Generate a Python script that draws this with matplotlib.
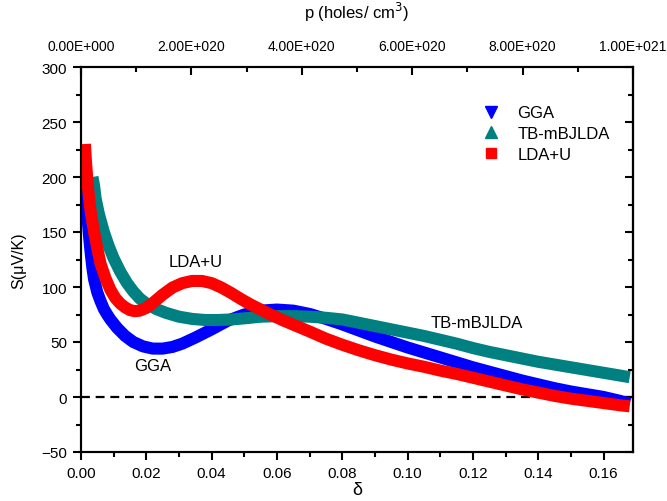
import matplotlib

matplotlib.use("Agg")
import matplotlib.pyplot as plt
from matplotlib.lines import Line2D
from matplotlib.ticker import FuncFormatter, MultipleLocator

plt.rcParams["font.family"] = ["Liberation Sans", "DejaVu Sans"]

# hole concentration delta vs Seebeck coefficient S (uV/K)
gga_delta = [0.001, 0.0015, 0.002, 0.0025, 0.003, 0.0035, 0.004, 0.005, 0.006, 0.007,
             0.008, 0.009, 0.011, 0.0135, 0.016, 0.019, 0.022, 0.025, 0.028, 0.031,
             0.035, 0.040, 0.045, 0.050, 0.055, 0.060, 0.065, 0.070, 0.075, 0.080,
             0.085, 0.090, 0.095, 0.100, 0.105, 0.110, 0.115, 0.120, 0.125, 0.130,
             0.135, 0.140, 0.145, 0.150, 0.155, 0.160, 0.165, 0.168]
gga_s = [212, 185, 163, 145, 130, 117, 107, 95, 87, 80,
         75, 70.5, 63, 55.5, 50, 46, 44, 44, 45.5, 48.5,
         54, 61.5, 69.5, 75, 78.5, 79.5, 78.5, 75.5, 71, 66,
         60.5, 55, 50, 45, 40.5, 36, 31.5, 27, 23, 19,
         15, 11.5, 8, 5, 2.5, 0, -3.5, -6]

tb_delta = [0.0035, 0.004, 0.0045, 0.0055, 0.007, 0.0085, 0.010, 0.012, 0.014, 0.016,
            0.018, 0.020, 0.023, 0.026, 0.030, 0.034, 0.038, 0.042, 0.046, 0.050,
            0.055, 0.060, 0.065, 0.070, 0.075, 0.080, 0.085, 0.090, 0.095, 0.100,
            0.105, 0.110, 0.115, 0.120, 0.125, 0.130, 0.135, 0.140, 0.145, 0.150,
            0.155, 0.160, 0.165, 0.168]
tb_s = [200, 192, 180, 166, 150, 137, 126, 114, 104, 96,
        89.5, 85, 80, 76.5, 73, 71, 70, 70, 70.5, 71.5,
        73, 73.5, 73.5, 73, 72, 70.5, 67.5, 64.5, 61.5, 58.5,
        55.5, 52, 48.5, 44.5, 41, 38, 35, 32, 29.5, 27,
        24.5, 22, 19.5, 18]

ldau_delta = [0.0012, 0.0015, 0.002, 0.0025, 0.003, 0.004, 0.005, 0.006, 0.0075, 0.009,
              0.0105, 0.012, 0.0135, 0.015, 0.0165, 0.018, 0.020, 0.022, 0.025, 0.028,
              0.031, 0.034, 0.037, 0.040, 0.043, 0.046, 0.049, 0.052, 0.055, 0.058,
              0.062, 0.066, 0.070, 0.075, 0.080, 0.085, 0.090, 0.095, 0.100, 0.105,
              0.110, 0.115, 0.120, 0.125, 0.130, 0.135, 0.140, 0.145, 0.150, 0.155,
              0.160, 0.165, 0.168]
ldau_s = [230, 215, 195, 180, 168, 150, 135, 121, 108, 97.5,
          90, 85, 81.5, 79, 78, 78.5, 81, 85.5, 93, 99.5,
          103.5, 105.5, 105.5, 103.5, 99.5, 94.5, 89, 84, 79.5, 75,
          69.5, 64.5, 59.5, 53, 47.5, 42.5, 38, 34, 30.5, 27.5,
          24, 21, 17.5, 14, 10.5, 7, 4, 1, -1.5, -3.5,
          -5.5, -7.5, -8.5]

series = [
    ("GGA", gga_delta, gga_s, "#0000ff", "v"),
    ("TB-mBJLDA", tb_delta, tb_s, "#008080", "^"),
    ("LDA+U", ldau_delta, ldau_s, "#ff0000", "s"),
]

DELTA_MAX = 0.169
P_MAX = 1.0e21


def sci3(val, _pos):
    # Origin style: 2.00E+020
    if val == 0:
        return "0.00E+000"
    exp = int(f"{val:e}".split("e")[1])
    mant = val / 10 ** exp
    return f"{mant:.2f}E+{exp:03d}"


fig = plt.figure(figsize=(6.67, 5.02), dpi=100)
ax = fig.add_axes([81 / 667, 49 / 502, 552 / 667, 385 / 502])

# symbols are packed so tightly in the original that they read as a thick band
for z, (name, d, s, color, mk) in enumerate(series):
    ax.plot(d, s, color=color, lw=8.7, solid_capstyle="butt", solid_joinstyle="round",
            zorder=3 + z)

ax.axhline(0, color="black", lw=1.6, ls=(0, (4, 2.6)), zorder=2)

ax.set_xlim(0, DELTA_MAX)
ax.set_ylim(-50, 300)
ax.xaxis.set_major_locator(MultipleLocator(0.02))
ax.xaxis.set_minor_locator(MultipleLocator(0.01))
ax.yaxis.set_major_locator(MultipleLocator(50))
ax.yaxis.set_minor_locator(MultipleLocator(25))
ax.xaxis.set_major_formatter(FuncFormatter(lambda v, p: f"{v:.2f}"))
ax.tick_params(which="major", direction="out", length=6, width=1.5, labelsize=11, pad=4)
ax.tick_params(which="minor", direction="out", length=3.5, width=1.5)
for sp in ax.spines.values():
    sp.set_linewidth(1.5)

ax.set_xlabel("δ", fontsize=13, labelpad=1)
ax.set_ylabel("S(μV/K)", fontsize=11.5, labelpad=11)

# right axis: ticks only, pointing in
right = ax.secondary_yaxis("right")
right.yaxis.set_major_locator(MultipleLocator(50))
right.yaxis.set_minor_locator(MultipleLocator(25))
right.tick_params(which="major", direction="in", length=6, width=1.5, labelright=False)
right.tick_params(which="minor", direction="in", length=3.5, width=1.5)
right.spines["right"].set_linewidth(1.5)

# top axis: hole concentration
top = ax.twiny()
top.set_xlim(0, P_MAX)
top.xaxis.set_major_locator(MultipleLocator(2e20))
top.xaxis.set_minor_locator(MultipleLocator(1e20))
top.xaxis.set_major_formatter(FuncFormatter(sci3))
top.tick_params(which="major", direction="in", length=6, width=1.5, labelsize=10, pad=10)
top.tick_params(which="minor", direction="in", length=3.5, width=1.5)
top.set_xlabel("p (holes/ cm$^3$)", fontsize=12, labelpad=15)
for sp in top.spines.values():
    sp.set_linewidth(1.5)

handles = [Line2D([], [], ls="none", marker=mk, ms=9 if mk != "s" else 7.5, color=c)
           for _, _, _, c, mk in series]
ax.legend(handles, [n for n, *_ in series], loc="upper left", bbox_to_anchor=(0.712, 0.922),
          frameon=False, fontsize=12, handlelength=1.0, handletextpad=1.1,
          labelspacing=0.35, borderpad=0)

ax.text(0.0352, 123, "LDA+U", fontsize=12, ha="center", va="center")
ax.text(0.022, 29, "GGA", fontsize=12, ha="center", va="center")
ax.text(0.1212, 68, "TB-mBJLDA", fontsize=12, ha="center", va="center")

fig.savefig("out.png", dpi=100)
